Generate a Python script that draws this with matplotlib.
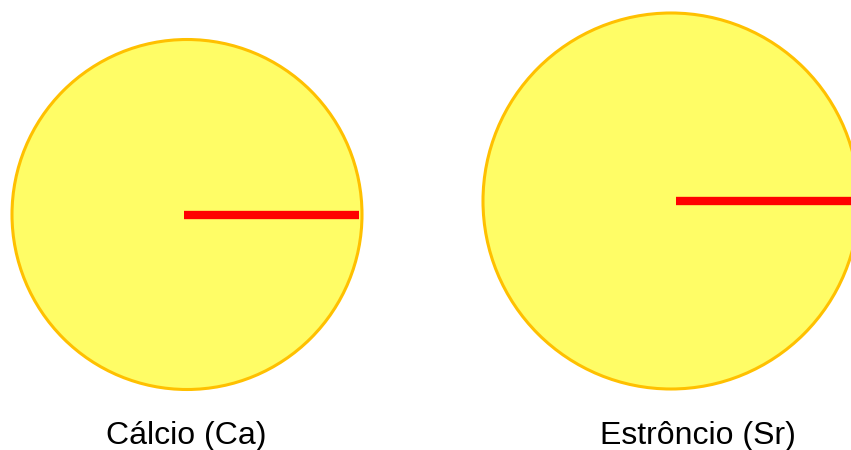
import matplotlib
matplotlib.use("Agg")
import matplotlib.pyplot as plt
from matplotlib.patches import Circle

# Data
elements = ["Cálcio (Ca)", "Estrôncio (Sr)"]
radii = [175, 188]  # relative atomic radii (drawing units)

# Layout (pixel-like coordinates)
centers = [(187, 214.5), (671, 201)]
line_starts = [184, 676]
label_x = [186, 698]
label_y = 436

fig = plt.figure(figsize=(8.51, 4.5), dpi=100)
ax = fig.add_axes([0, 0, 1, 1])
ax.set_xlim(0, 851)
ax.set_ylim(450, 0)
ax.set_aspect("equal")
ax.axis("off")

for name, r, (cx, cy), xs, lx in zip(elements, radii, centers, line_starts, label_x):
    ax.add_patch(Circle((cx, cy), r, facecolor="#FFFD66", edgecolor="#FFC000",
                        linewidth=2.2, zorder=1))
    ax.plot([xs, cx + r - 3], [cy, cy], color="#FF0000", linewidth=6.0,
            solid_capstyle="butt", zorder=2)
    ax.text(lx, label_y, name, ha="center", va="center", fontsize=23,
            family="Liberation Sans", color="black")

fig.savefig("out.png", dpi=100)
